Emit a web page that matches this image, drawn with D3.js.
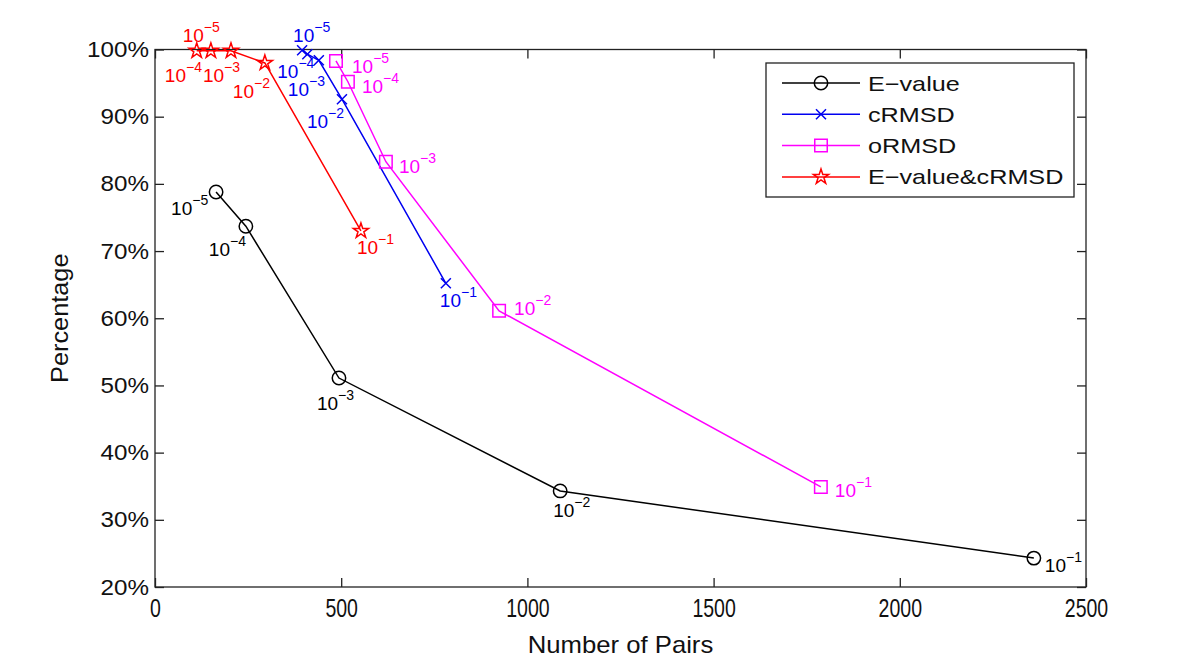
<!DOCTYPE html>
<html><head><meta charset="utf-8">
<script src="https://cdn.jsdelivr.net/npm/d3@7"></script>
<style>body{margin:0;background:#fff}svg{display:block}text{font-family:"Liberation Sans",Arial,sans-serif}</style>
</head><body><svg id="c" width="1200" height="663"></svg>
<script>
// ---- data ----
const seriesNames = ["E\u2212value", "cRMSD", "oRMSD", "E\u2212value&cRMSD"];
const thresholds = ["10\u22125", "10\u22124", "10\u22123", "10\u22122", "10\u22121"];
const evaluePairs = [164, 244, 494, 1088, 2360];
const evaluePct   = [78.8, 73.7, 51.1, 34.3, 24.3];
const crmsdPairs  = [395, 409, 440, 502, 781];
const crmsdPct    = [99.9, 99.3, 98.4, 92.6, 65.2];
const ormsdPairs  = [486, 518, 620, 924, 1788];
const ormsdPct    = [98.3, 95.2, 83.3, 61.1, 34.9];
const bothPairs   = [112, 150, 204, 295, 553];
const bothPct     = [99.8, 99.8, 99.8, 98.0, 73.0];
const xTicks = [0, 500, 1000, 1500, 2000, 2500];
const yTicks = [20, 30, 40, 50, 60, 70, 80, 90, 100];

// ---- styles / label placement (pixels) ----
const styles = [
  {color:"#000000", marker:"circle", off:[[-45,23],[-37,30],[-22,32],[-7,26],[11,14]]},
  {color:"#0000f0", marker:"cross",  off:[[-9,-8],[-30,24],[-31,36],[-35,29],[-6,24]]},
  {color:"#ff00ff", marker:"square", off:[[16,12],[14,11],[13,11],[15,4],[14,10]]},
  {color:"#ff0000", marker:"star",   off:[[-14,-9],[-46,31],[-28,31],[-32,35],[-4,23]]}
];
const seriesData = [
  [evaluePairs, evaluePct], [crmsdPairs, crmsdPct], [ormsdPairs, ormsdPct], [bothPairs, bothPct]
];

const L = 155, R = 1086, T = 49.5, B = 587;
const x = d3.scaleLinear().domain([0, 2500]).range([L, R]);
const y = d3.scaleLinear().domain([20, 100]).range([B, T]);
const svg = d3.select("#c");

function stretch(sel, f) {
  sel.each(function(){ const n=this; const w=n.getComputedTextLength();
    n.setAttribute("textLength", w*f); n.setAttribute("lengthAdjust","spacingAndGlyphs"); });
}
function starPath(ro) {
  const ri = ro*0.382; let p = "";
  for (let i=0;i<10;i++){ const r = i%2?ri:ro; const a = -Math.PI/2 + i*Math.PI/5;
    p += (i?"L":"M") + (r*Math.cos(a)).toFixed(2) + "," + (r*Math.sin(a)).toFixed(2); }
  return p + "Z";
}
function markerPath(m) {
  if (m==="circle") return d3.symbol(d3.symbolCircle, Math.PI*6.7*6.7)();
  if (m==="square") return d3.symbol(d3.symbolSquare, 12.5*12.5)();
  if (m==="cross") return "M-5,-5L5,5M-5,5L5,-5";
  return starPath(8);
}

// axes box
const axG = svg.append("g");
axG.append("rect").attr("x",L).attr("y",T).attr("width",R-L).attr("height",B-T)
  .attr("fill","none").attr("stroke","#222").attr("stroke-width",1.3);
const tl = 9;
const xb = axG.append("g").attr("transform",`translate(0,${B})`)
  .call(d3.axisBottom(x).tickValues(xTicks).tickSizeInner(-tl).tickSizeOuter(0).tickPadding(12).tickFormat(d3.format("d")));
const xt = axG.append("g").attr("transform",`translate(0,${T})`)
  .call(d3.axisTop(x).tickValues(xTicks).tickSizeInner(-tl).tickSizeOuter(0).tickFormat(""));
const yl = axG.append("g").attr("transform",`translate(${L},0)`)
  .call(d3.axisLeft(y).tickValues(yTicks).tickSizeInner(-tl).tickSizeOuter(0).tickPadding(6).tickFormat(d=>d+"%"));
const yr = axG.append("g").attr("transform",`translate(${R},0)`)
  .call(d3.axisRight(y).tickValues(yTicks).tickSizeInner(-tl).tickSizeOuter(0).tickFormat(""));
[xb,xt,yl,yr].forEach(g=>{ g.select(".domain").remove();
  g.selectAll(".tick line").attr("stroke","#222").attr("stroke-width",1.3);
  g.selectAll(".tick text").attr("fill","#111").attr("font-family","Liberation Sans, Arial, sans-serif"); });
yl.selectAll(".tick text").attr("font-size",22).call(stretch, 1.1);
xb.selectAll(".tick text").attr("font-size",25).attr("dy","0.71em").call(stretch, 0.78);

// axis titles
svg.append("text").attr("x",(L+R)/2).attr("y",653).attr("text-anchor","middle")
  .attr("font-size",24).attr("fill","#111").text("Number of Pairs").call(stretch,1.07);
svg.append("text").attr("transform",`translate(68,${(T+B)/2}) rotate(-90)`).attr("text-anchor","middle")
  .attr("font-size",23).attr("fill","#111").text("Percentage").call(stretch,1.1);

// series
const line = d3.line();
seriesData.forEach((sd, si) => {
  const st = styles[si];
  const pts = sd[0].map((v,i)=>[x(v), y(sd[1][i])]);
  svg.append("path").attr("d", line(pts)).attr("fill","none").attr("stroke",st.color).attr("stroke-width",1.5);
  svg.append("g").selectAll("path").data(pts).join("path")
    .attr("transform",d=>`translate(${d[0]},${d[1]})`).attr("d",markerPath(st.marker))
    .attr("fill","none").attr("stroke",st.color).attr("stroke-width",1.5);
  const lab = svg.append("g").selectAll("text").data(pts).join("text")
    .attr("x",(d,i)=>d[0]+st.off[i][0]).attr("y",(d,i)=>d[1]+st.off[i][1])
    .attr("font-size",19).attr("fill",st.color);
  lab.append("tspan").text((d,i)=>thresholds[i].slice(0,2));
  lab.append("tspan").attr("dy",-10).attr("font-size",14).text((d,i)=>thresholds[i].slice(2));
});

// legend
const lg = svg.append("g");
lg.append("rect").attr("x",766).attr("y",63).attr("width",308).attr("height",134)
  .attr("fill","#fff").attr("stroke","#222").attr("stroke-width",1.3);
seriesNames.forEach((nm,i)=>{
  const ry = 83 + i*31.3, st = styles[i];
  lg.append("line").attr("x1",782).attr("x2",860).attr("y1",ry).attr("y2",ry).attr("stroke",st.color).attr("stroke-width",1.5);
  lg.append("path").attr("transform",`translate(821,${ry})`).attr("d",markerPath(st.marker))
    .attr("fill","none").attr("stroke",st.color).attr("stroke-width",1.5);
  lg.append("text").attr("x",868).attr("y",ry+7.5).attr("font-size",21).attr("fill","#111").text(nm).call(stretch,1.2);
});
</script></body></html>
